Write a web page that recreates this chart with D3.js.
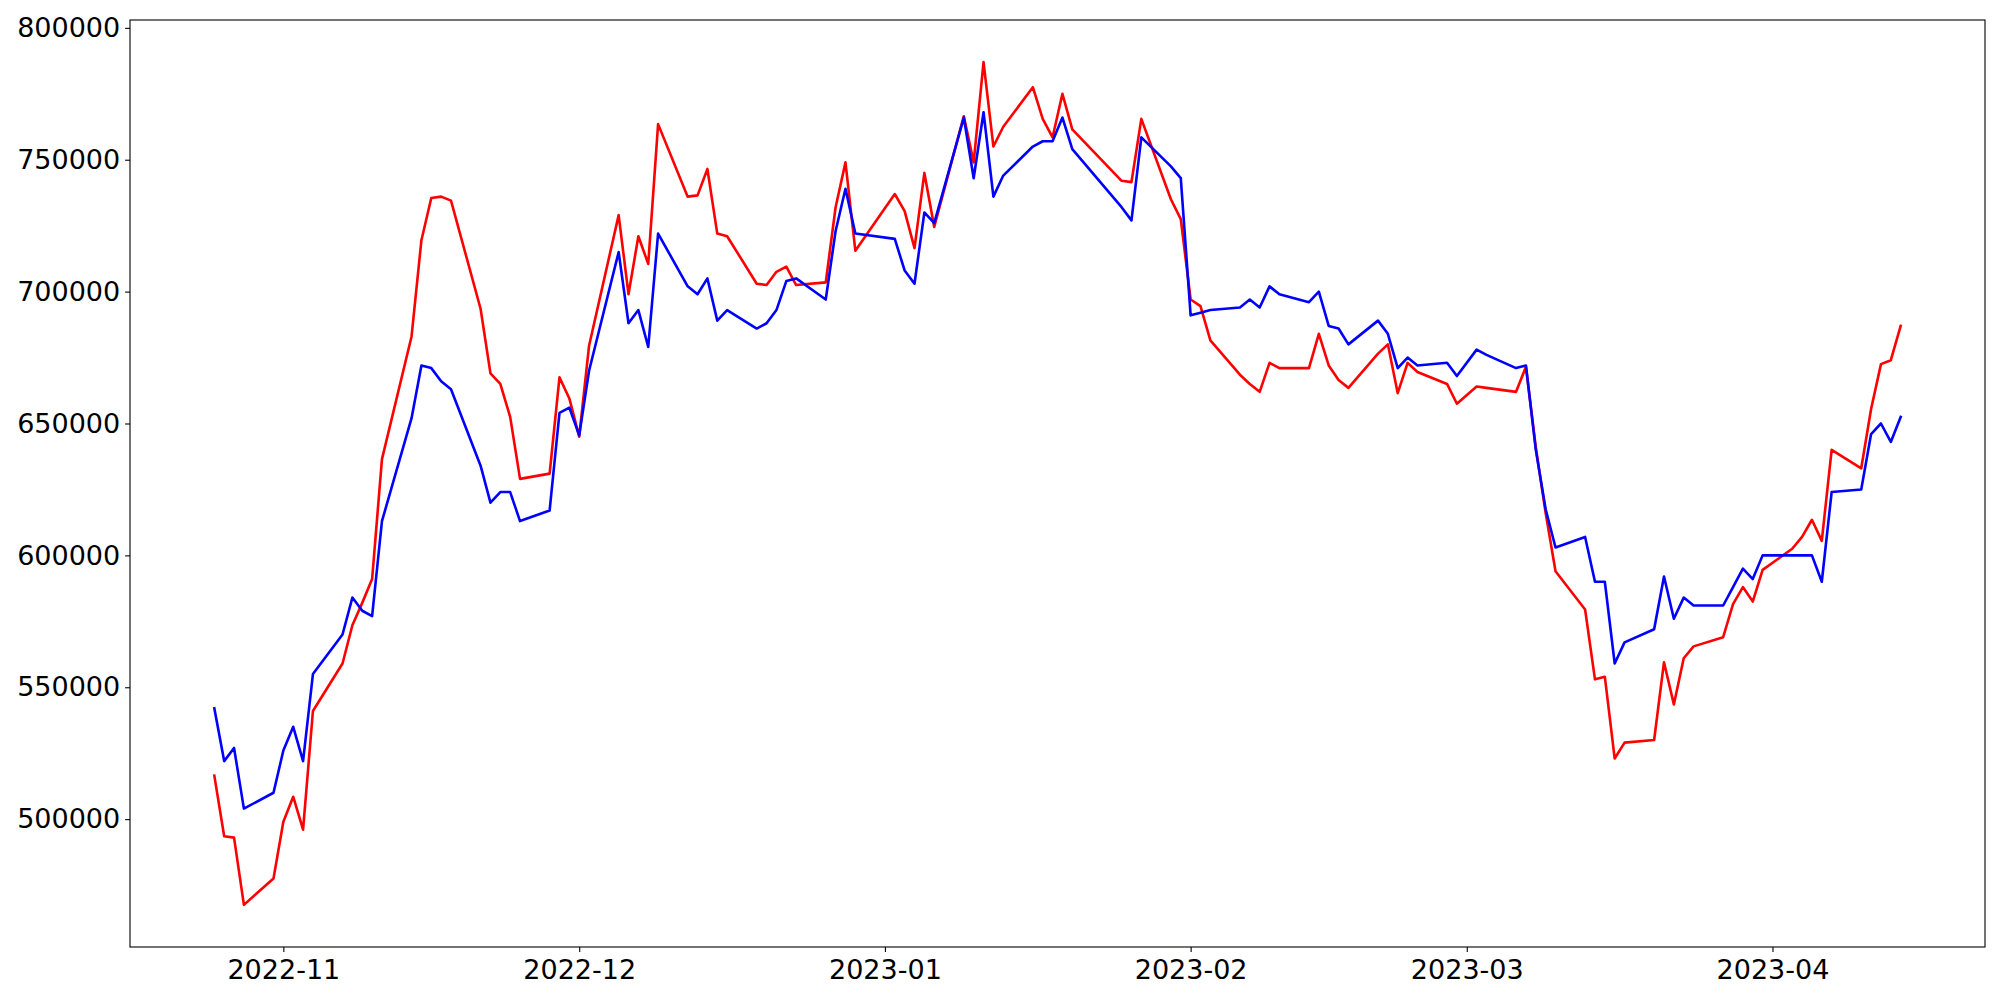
<!DOCTYPE html>
<html><head><meta charset="utf-8">
<script src="https://cdn.jsdelivr.net/npm/d3@7"></script>
<style>body{margin:0;background:#fff}</style>
</head><body>
<svg id="chart" width="2000" height="1000"></svg>
<script>
const dates = [
"2022-10-25","2022-10-26","2022-10-27","2022-10-28","2022-10-31",
"2022-11-01","2022-11-02","2022-11-03","2022-11-04","2022-11-07","2022-11-08","2022-11-09","2022-11-10","2022-11-11",
"2022-11-14","2022-11-15","2022-11-16","2022-11-17","2022-11-18","2022-11-21","2022-11-22","2022-11-23","2022-11-24","2022-11-25",
"2022-11-28","2022-11-29","2022-11-30","2022-12-01","2022-12-02","2022-12-05","2022-12-06","2022-12-07","2022-12-08","2022-12-09",
"2022-12-12","2022-12-13","2022-12-14","2022-12-15","2022-12-16","2022-12-19","2022-12-20","2022-12-21","2022-12-22","2022-12-23",
"2022-12-26","2022-12-27","2022-12-28","2022-12-29","2023-01-02","2023-01-03","2023-01-04","2023-01-05","2023-01-06",
"2023-01-09","2023-01-10","2023-01-11","2023-01-12","2023-01-13","2023-01-16","2023-01-17","2023-01-18","2023-01-19","2023-01-20",
"2023-01-25","2023-01-26","2023-01-27","2023-01-30","2023-01-31","2023-02-01","2023-02-02","2023-02-03",
"2023-02-06","2023-02-07","2023-02-08","2023-02-09","2023-02-10","2023-02-13","2023-02-14","2023-02-15","2023-02-16","2023-02-17",
"2023-02-20","2023-02-21","2023-02-22","2023-02-23","2023-02-24","2023-02-27","2023-02-28","2023-03-02","2023-03-03",
"2023-03-06","2023-03-07","2023-03-08","2023-03-09","2023-03-10","2023-03-13","2023-03-14","2023-03-15","2023-03-16","2023-03-17",
"2023-03-20","2023-03-21","2023-03-22","2023-03-23","2023-03-24","2023-03-27","2023-03-28","2023-03-29","2023-03-30","2023-03-31",
"2023-04-03","2023-04-04","2023-04-05","2023-04-06","2023-04-07","2023-04-10","2023-04-11","2023-04-12","2023-04-13","2023-04-14"
];
const redValues = [
516500,493500,493000,467500,477500,
499000,508500,496000,541000,559000,573500,582000,591000,636500,
683000,719500,735500,736000,734500,693500,669000,665000,652500,629000,
631000,667500,659500,645000,679500,729000,699000,721000,710500,763500,
736000,736500,746500,722000,721000,703000,702500,707500,709500,702500,
703500,732000,749000,715500,737000,730500,716500,745000,724500,
766500,749000,787000,755000,762500,777500,765500,758500,775000,761500,
742000,741500,765500,735000,727500,697000,694500,681500,
668500,665000,662000,673000,671000,671000,684000,672000,666500,663500,
676500,680000,661500,673000,669500,665000,657500,664000,663500,
662000,671500,641000,616000,594000,579500,553000,554000,523000,529000,
530000,559500,543500,561000,565500,569000,581500,588000,582500,594500,
602500,607000,613500,605500,640000,633000,655500,672500,674000,687000
];
const blueValues = [
542000,522000,527000,504000,510000,
526000,535000,522000,555000,570000,584000,579000,577000,613000,
652000,672000,671000,666000,663000,634000,620000,624000,624000,613000,
617000,654000,656000,645500,670000,715000,688000,693000,679000,722000,
702000,699000,705000,689000,693000,686000,688000,693000,704000,705000,
697000,723000,739000,722000,720000,708000,703000,730000,726000,
766000,743000,768000,736000,744000,755000,757000,757000,766000,754000,
732000,727000,758500,747500,743000,691000,692000,693000,
694000,697000,694000,702000,699000,696000,700000,687000,686000,680000,
689000,684000,671000,675000,672000,673000,668000,678000,676000,
671000,672000,640000,617500,603000,607000,590000,590000,559000,567000,
572000,592000,576000,584000,581000,581000,588000,595000,591000,600000,
600000,600000,600000,590000,624000,625000,646000,650000,643000,652500
];
const xTickLabels = ["2022-11","2022-12","2023-01","2023-02","2023-03","2023-04"];
const yTickValues = [500000,550000,600000,650000,700000,750000,800000];

const parseDay = d3.timeParse("%Y-%m-%d");
const parseMonth = d3.timeParse("%Y-%m");
const fmtMonth = d3.timeFormat("%Y-%m");

const svg = d3.select("#chart");
const margin = {left:130, right:15, top:20, bottom:53};
const W = 2000, H = 1000;
const pw = W - margin.left - margin.right, ph = H - margin.top - margin.bottom;

svg.append("rect").attr("width", W).attr("height", H).attr("fill", "#fff");

const xs = dates.map(parseDay);
const [x0, x1] = d3.extent(xs);
const xpad = (x1 - x0) * 0.05;
const x = d3.scaleTime().domain([new Date(+x0 - xpad), new Date(+x1 + xpad)]).range([margin.left, margin.left + pw]);

const allV = redValues.concat(blueValues);
const [y0, y1] = d3.extent(allV);
const ypad = (y1 - y0) * 0.05;
const y = d3.scaleLinear().domain([y0 - ypad, y1 + ypad]).range([margin.top + ph, margin.top]);

const font = "DejaVu Sans";

const line = vals => d3.line().x((d,i) => x(xs[i])).y(d => y(d))(vals);

const series = [
  {vals: redValues, color: "#ff0000"},
  {vals: blueValues, color: "#0000ff"}
];
series.forEach(s => {
  svg.append("path").attr("d", line(s.vals)).attr("fill", "none")
    .attr("stroke", s.color).attr("stroke-width", 2.6)
    .attr("stroke-linejoin", "round").attr("stroke-linecap", "square");
});

const xAxis = d3.axisBottom(x).tickValues(xTickLabels.map(parseMonth)).tickFormat(fmtMonth)
  .tickSize(4.9).tickPadding(8).tickSizeOuter(0);
const gx = svg.append("g").attr("transform", `translate(0,${margin.top + ph})`).call(xAxis);
const yAxis = d3.axisLeft(y).tickValues(yTickValues).tickFormat(d3.format("d"))
  .tickSize(4.9).tickPadding(4.9).tickSizeOuter(0);
const gy = svg.append("g").attr("transform", `translate(${margin.left},0)`).call(yAxis);

[gx, gy].forEach(g => {
  g.select(".domain").remove();
  g.selectAll(".tick line").attr("stroke", "#000").attr("stroke-width", 1.1);
  g.selectAll(".tick text").attr("fill", "#000").style("font-family", font).style("font-size", "27px");
});

svg.append("rect").attr("x", margin.left).attr("y", margin.top).attr("width", pw).attr("height", ph)
  .attr("fill", "none").attr("stroke", "#000").attr("stroke-width", 1.1);
</script>
</body></html>
